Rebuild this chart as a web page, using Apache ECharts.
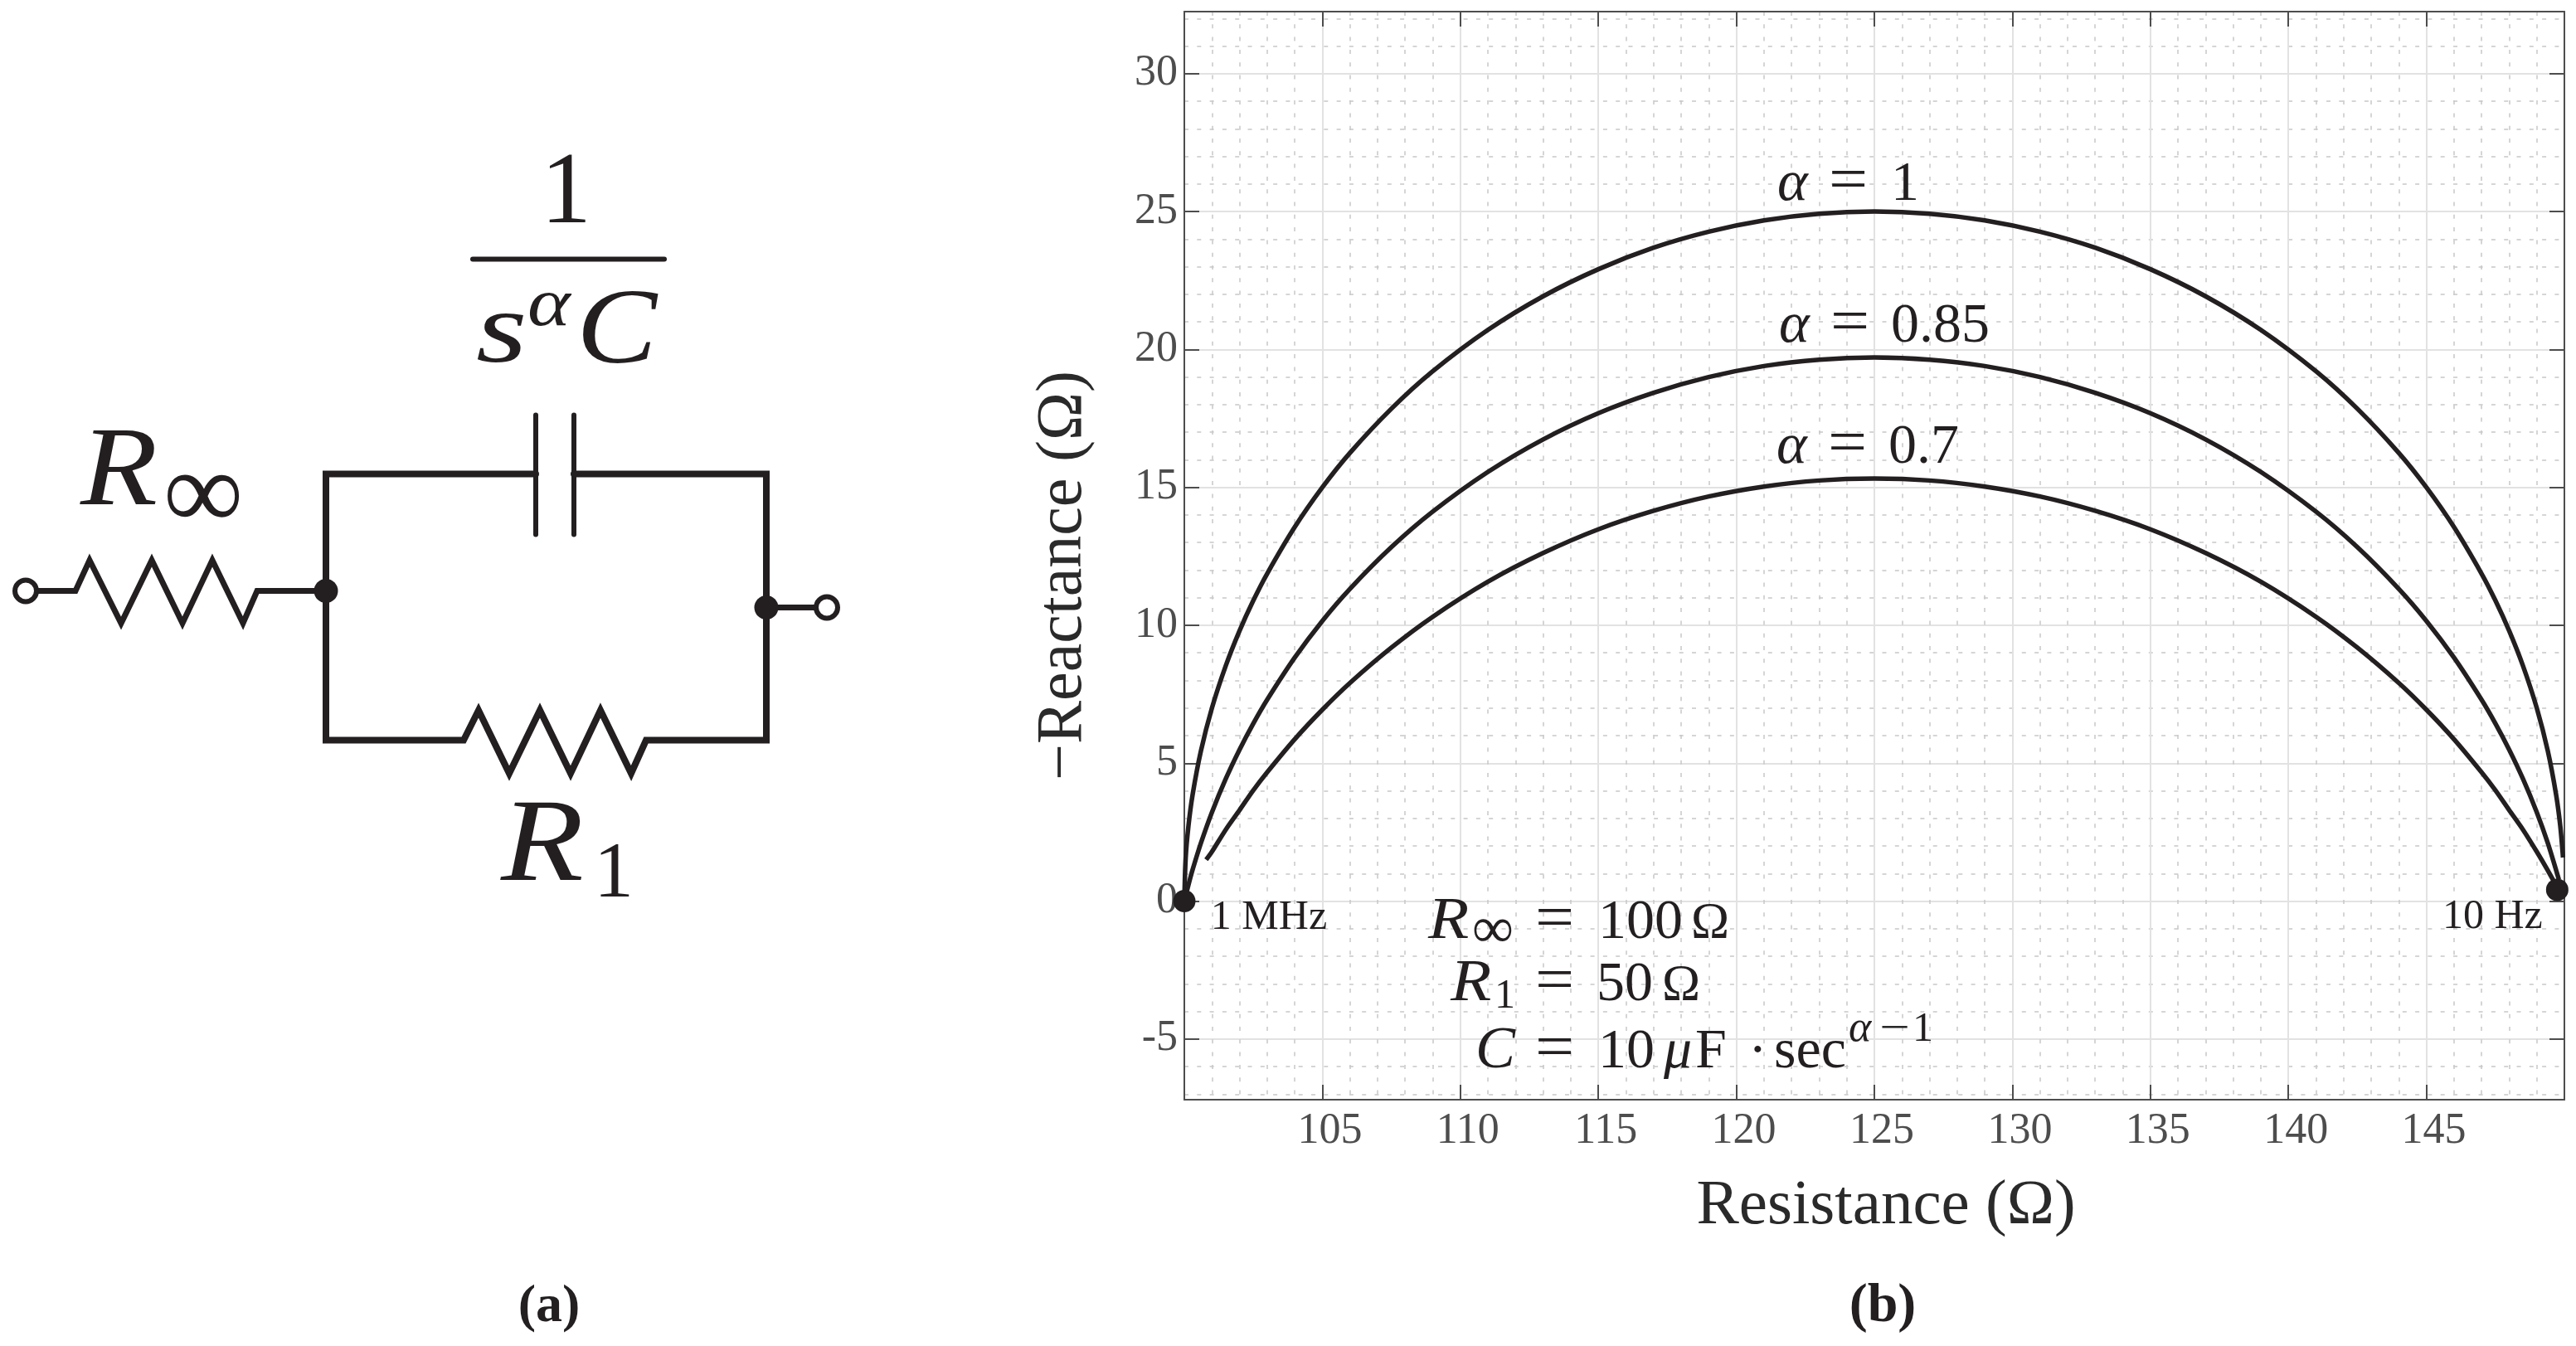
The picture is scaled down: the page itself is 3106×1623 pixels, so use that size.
<!DOCTYPE html>
<html><head><meta charset="utf-8">
<style>html,body{margin:0;padding:0;background:#fff}#c{width:3106px;height:1623px}</style>
<script src="https://cdn.jsdelivr.net/npm/echarts@6/dist/echarts.min.js"></script>
</head><body><div id="c"></div>
<script>
// ---- values ----
const resistanceAlpha1 = [100,100.05,100.15,100.3,100.6,101,101.5,102,102.5,103,104,105,106,107.5,109,111,113,115,117,119,121,123,125,127,129,131,133,135,137,139,141,142.5,144,145,146,147,147.5,148,148.5,149,149.4,149.7,149.85,149.95];
const reactanceAlpha1  = [0,1.58,2.73,3.86,5.44,7.00,8.53,9.80,10.90,11.87,13.56,15.00,16.25,17.85,19.21,20.71,21.93,22.91,23.69,24.27,24.68,24.92,25.00,24.92,24.68,24.27,23.69,22.91,21.93,20.71,19.21,17.85,16.25,15.00,13.56,11.87,10.90,9.80,8.53,7.00,5.44,3.86,2.73,1.58];
const resistanceAlpha085 = [100.04,100.2,100.3,100.6,101,101.5,102,102.5,103,104,105,106,107.5,109,111,113,115,117,119,121,123,125,127,129,131,133,135,137,139,141,142.5,144,145,146,147,147.5,148,148.5,149,149.4,149.8];
const reactanceAlpha085  = [0.16,0.78,1.14,2.10,3.22,4.43,5.49,6.44,7.30,8.83,10.16,11.32,12.83,14.12,15.56,16.74,17.69,18.43,19.00,19.40,19.63,19.71,19.63,19.40,19.00,18.43,17.69,16.74,15.56,14.12,12.83,11.32,10.16,8.83,7.30,6.44,5.49,4.43,3.22,2.10,0.78];
const resistanceAlpha07 = [100.79,101,101.5,102,102.5,103,104,105,106,107.5,109,111,113,115,117,119,121,123,125,127,129,131,133,135,137,139,141,142.5,144,145,146,147,147.5,148,148.5,149,149.4,149.79];
const reactanceAlpha07  = [1.50,1.79,2.59,3.30,4.02,4.67,5.87,6.94,7.91,9.19,10.31,11.58,12.62,13.48,14.15,14.67,15.03,15.25,15.32,15.25,15.03,14.67,14.15,13.48,12.62,11.58,10.31,9.19,7.91,6.94,5.87,4.67,4.02,3.30,2.59,1.79,1.11,0.40];
const endpointResistance = [100, 149.74];
const endpointReactance  = [0, 0.41];
const endpointLabels     = ['1 MHz', '10 Hz'];
const xTicks = [105,110,115,120,125,130,135,140,145];
const yTicks = [-5,0,5,10,15,20,25,30];
const xMinorGrid = [101,102,103,104,106,107,108,109,111,112,113,114,116,117,118,119,121,122,123,124,126,127,128,129,131,132,133,134,136,137,138,139,141,142,143,144,146,147,148,149];
const yMinorGrid = [-7,-6,-4,-3,-2,-1,1,2,3,4,6,7,8,9,11,12,13,14,16,17,18,19,21,22,23,24,26,27,28,29,31,32];
const xTitle = 'Resistance (Ω)';
const yTitle = '−Reactance (Ω)';

// ---- chart ----
const SERIF = '"Liberation Serif"';
const INK = '#231f20', AXIS = '#4d4d4d', MAJOR = '#e2e2e2', MINOR = '#c8c8c8', TITLE = '#2a2a2a';
const XMIN = 100, XMAX = 150, YMIN = -7.2, YMAX = 32.25;
const zip = (a, b) => a.map((v, i) => [v, b[i]]);
const minorStyle = {show: true, lineStyle: {color: MINOR, width: 1.5, type: [5, 10.3]}};
const majorStyle = {show: true, lineStyle: {color: MAJOR, width: 2}};
const tickStyle = {show: true, inside: true, length: 18, lineStyle: {color: AXIS, width: 2}};
const lineStyleAxis = {show: true, onZero: false, lineStyle: {color: AXIS, width: 2}};
const labelFont = {fontFamily: SERIF, fontSize: 52, color: AXIS};
const curve = (name, xs, ys) => ({name, type: 'line', data: zip(xs, ys), showSymbol: false, symbol: 'none', smooth: 0.3, z: 5, clip: false,
  lineStyle: {color: INK, width: 5.5, join: 'round'}});

// helper: text by baseline
function T(x, base, text, size, o) {
  o = o || {};
  const y = base - 0.21 * size;
  return {type: 'text', z: 20, silent: true, x, y, scaleX: o.sx || 1, style: {x: 0, y: 0, text, fontFamily: o.family || SERIF,
    fontSize: size, fontStyle: o.i ? 'italic' : 'normal', fontWeight: o.b ? 'bold' : 'normal', fill: INK,
    align: o.align || 'left', verticalAlign: 'middle'}};
}
const DX = 1, DY = 1.5;
function W(points, lw) {
  return {type: 'polyline', z: 10, silent: true, shape: {points: points.map(p => [p[0] + DX, p[1] + DY])}, style: {stroke: INK, fill: 'none', lineWidth: lw, lineJoin: 'miter', lineCap: 'round'}};
}
function Dot(x, y, r) { return {type: 'circle', z: 11, silent: true, shape: {cx: x + DX, cy: y + DY, r}, style: {fill: INK}}; }
function Ring(x, y, r) { return {type: 'circle', z: 11, silent: true, shape: {cx: x + DX, cy: y + DY, r}, style: {fill: '#fff', stroke: INK, lineWidth: 6}}; }

const schematic = [
  W([[43,711],[90,711],[107,674],[145,750],[182,674],[219,750],[255,674],[292,750],[309,711],[392,711]], 7),
  W([[645,570],[392,570],[392,891],[558,891],[576,855],[613,931],[650,855],[687,931],[723,855],[760,931],[778,891],[923,891],[923,570],[691,570]], 8),
  W([[645,499],[645,643]], 6), W([[691,499],[691,643]], 6),
  W([[923,731],[983,731]], 7),
  W([[569,311],[800,311]], 6),
  Dot(392,711,14.5), Dot(923,731,14.5), Ring(30,711,13), Ring(996,731,13),
  T(652,262,'1',122), T(574,430,'s',122,{i:1,sx:1.3}), T(636,388,'α',82,{i:1,sx:1.2}), T(695,430,'C',130,{i:1,sx:1.12}),
  T(97,601,'R',136,{i:1,sx:1.12}), T(197,630,'∞',135), T(604,1053,'R',142,{i:1,sx:1.15}), T(716,1076,'1',96),
  T(662,1590,'(a)',64,{b:1,align:'center'}), T(2270,1590,'(b)',66,{b:1,align:'center'}),
  // alpha labels
  T(2143,237,'α',70,{i:1}), T(2205,237,'=',76,{sx:1.1}), T(2280,237,'1',68),
  T(2145,408,'α',70,{i:1}), T(2207,408,'=',76,{sx:1.1}), T(2280,408,'0.85',68),
  T(2142,554,'α',70,{i:1}), T(2204,554,'=',76,{sx:1.1}), T(2277,554,'0.7',68),
  // parameter block
  T(1722,1127,'R',72,{i:1,sx:1.12}), T(1775,1138,'∞',70), T(1851,1127,'=',76,{sx:1.1}), T(1927,1127,'100',68), T(2039,1127,'Ω',62),
  T(1749,1202,'R',72,{i:1,sx:1.12}), T(1802,1212,'1',50), T(1851,1202,'=',76,{sx:1.1}), T(1925,1202,'50',68), T(2004,1202,'Ω',62),
  T(1779,1283,'C',72,{i:1}), T(1851,1283,'=',76,{sx:1.1}), T(1927,1283,'10',68), T(2006,1283,'μ',68,{i:1}), T(2044,1283,'F',68),
  T(2108,1283,'·',68), T(2139,1283,'sec',68), T(2229,1252,'α',52,{i:1}), T(2266,1252,'−',50,{sx:1.3}), T(2306,1252,'1',50)
];

const chart = echarts.init(document.getElementById('c'), null, {renderer: 'canvas'});
chart.setOption({
  animation: false,
  backgroundColor: '#fff',
  grid: {left: 1428, top: 14, width: 1664, height: 1312, containLabel: false},
  xAxis: [
    {type: 'value', position: 'bottom', min: XMIN, max: XMAX, name: xTitle, nameLocation: 'middle', nameGap: 90,
     nameTextStyle: {fontFamily: SERIF, fontSize: 77, color: TITLE, padding: [0,0,0,28]},
     axisLine: lineStyleAxis, axisTick: Object.assign({customValues: xTicks}, tickStyle),
     axisLabel: Object.assign({customValues: xTicks, margin: 12, padding: [0,0,0,18], showMinLabel: true, showMaxLabel: true}, labelFont),
     splitLine: majorStyle},
    {type: 'value', position: 'top', min: XMIN, max: XMAX, axisLine: lineStyleAxis,
     axisTick: Object.assign({customValues: xTicks}, tickStyle), axisLabel: {show: false}, splitLine: {show: false}},
    {type: 'value', position: 'bottom', min: XMIN, max: XMAX, axisLine: {show: false}, axisTick: {show: false, customValues: xMinorGrid},
     axisLabel: {show: false}, splitLine: minorStyle}
  ],
  yAxis: [
    {type: 'value', position: 'left', min: YMIN, max: YMAX, name: yTitle, nameLocation: 'middle', nameGap: 106,
     nameTextStyle: {fontFamily: SERIF, fontSize: 78, color: TITLE, padding: [0,48,0,0]},
     axisLine: lineStyleAxis, axisTick: Object.assign({customValues: yTicks}, tickStyle),
     axisLabel: Object.assign({customValues: yTicks, margin: 8, padding: [0,0,10,0]}, labelFont),
     splitLine: majorStyle},
    {type: 'value', position: 'right', min: YMIN, max: YMAX, axisLine: lineStyleAxis,
     axisTick: Object.assign({customValues: yTicks}, tickStyle), axisLabel: {show: false}, splitLine: {show: false}},
    {type: 'value', position: 'left', min: YMIN, max: YMAX, axisLine: {show: false}, axisTick: {show: false, customValues: yMinorGrid},
     axisLabel: {show: false}, splitLine: minorStyle}
  ],
  series: [
    curve('α = 1', resistanceAlpha1, reactanceAlpha1),
    curve('α = 0.85', resistanceAlpha085, reactanceAlpha085),
    curve('α = 0.7', resistanceAlpha07, reactanceAlpha07),
    {name: 'endpoints', type: 'scatter', symbol: 'circle', symbolSize: 27, z: 6, clip: false, itemStyle: {color: INK, opacity: 1},
     data: zip(endpointResistance, endpointReactance).map((p, i) => ({value: p,
       label: {show: true, formatter: endpointLabels[i], position: 'inside', offset: i === 0 ? [102, 20] : [-78, 33],
         fontFamily: SERIF, fontSize: 50, color: INK, opacity: 1}}))}
  ],
  graphic: {elements: schematic}
});
</script></body></html>
